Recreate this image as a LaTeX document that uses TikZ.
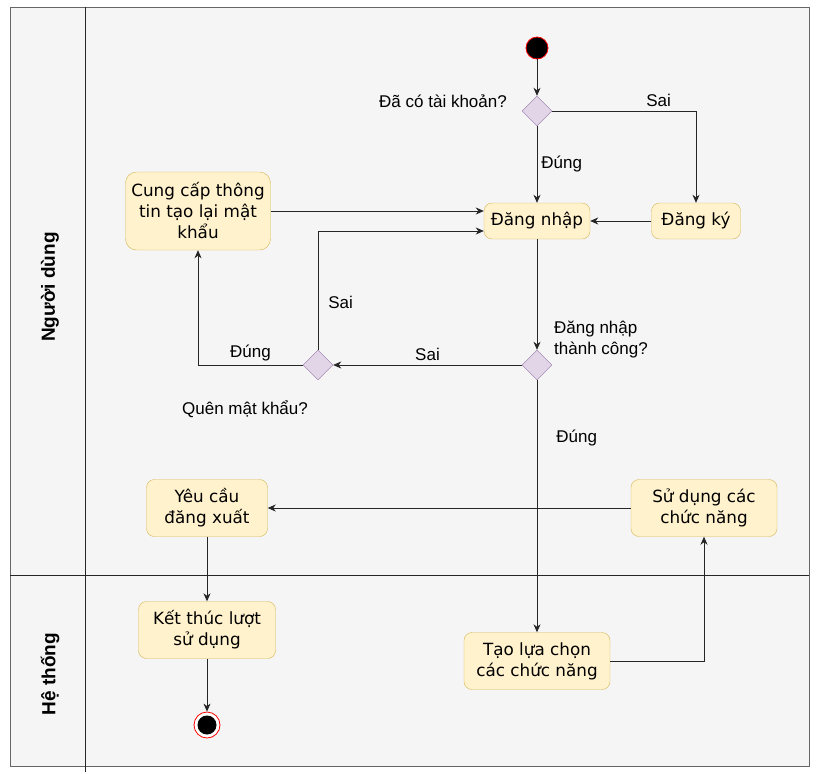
\documentclass[tikz,border=0pt]{standalone}
\usepackage{fontspec}
\setmainfont{Liberation Sans}
\newfontfamily\boxfont{DejaVu Sans}
\usepackage{tikz}
\usetikzlibrary{arrows.meta}
\usetikzlibrary{shapes.geometric}
\definecolor{laneBg}{HTML}{F5F5F5}
\definecolor{laneLine}{HTML}{666666}
\definecolor{actFill}{HTML}{FFF2CC}
\definecolor{actLine}{HTML}{D6B656}
\definecolor{decFill}{HTML}{E1D5E7}
\definecolor{decLine}{HTML}{9673A6}

\begin{document}
\begin{tikzpicture}[x=1pt,y=-1pt,>={Stealth[length=8pt,width=7pt,inset=2.5pt]},
        act/.style={draw=actLine, fill=actFill, rounded corners=8pt, align=center, inner sep=2pt,
            font=\boxfont\fontsize{16.8}{21}\selectfont},
        actc/.style={act, minimum height=57},
        dec/.style={diamond, draw=decLine, fill=decFill, minimum width=30, minimum height=30, inner sep=0},
        lbl/.style={font=\fontsize{17}{21}\selectfont, inner sep=1pt},
        lane/.style={rotate=90, font=\bfseries\fontsize{19}{22}\selectfont},
        flow/.style={->, draw=black!85, line width=0.8pt}]
        \def\lx{85}
        \def\ly{575}

        \useasboundingbox (0,0) rectangle (817,774);
        \filldraw[fill=laneBg, draw=laneLine, line width=0.8pt] (10,7) rectangle (809,766);
        \draw[black!85, line width=0.8pt] (\lx,7) -- (\lx,772);
        \draw[black!85, line width=0.8pt] (10,\ly) -- (809,\ly);
        \node[lane] (laneUser) at (50,287) {Người dùng};
        \node[lane] (laneSys) at (50,674) {Hệ thống};

        \node[circle, fill=black, draw=red, line width=0.8pt, minimum size=22, inner sep=0] (start) at (537,48) {};
        \node[dec] (hasAcc) at (537,111) {};
        \node[lbl, anchor=east] (hasAccTxt) at (508,101) {Đã có tài khoản?};
        \node[act, minimum width=106, minimum height=36] (login) at (537,221) {Đăng nhập};
        \node[act, minimum width=89, minimum height=36] (reg) at (696,221) {Đăng ký};
        \node[act, minimum width=145, minimum height=78, rounded corners=11pt] (reset) at (198,211) {Cung cấp thông\\tin tạo lại mật\\khẩu};
        \node[dec] (loginOk) at (537,365) {};
        \node[lbl, anchor=west, align=left] (loginOkTxt) at (553,339) {Đăng nhập\\thành công?};
        \node[dec] (forgot) at (318,365) {};
        \node[lbl] (forgotTxt) at (245,409) {Quên mật khẩu?};
        \node[actc, minimum width=146] (menu) at (537,661) {Tạo lựa chọn\\các chức năng};
        \node[actc, minimum width=146] (use) at (704,508) {Sử dụng các\\chức năng};
        \node[actc, minimum width=121] (logout) at (207,508) {Yêu cầu\\đăng xuất};
        \node[actc, minimum width=137] (finish) at (207,630) {Kết thúc lượt\\sử dụng};
        \node[circle, draw=red, fill=white, line width=0.8pt, minimum size=26, inner sep=0] (stop) at (207,725) {};
        \fill[black] (stop.center) circle (9.5pt);

        \draw[flow] (start) -- (hasAcc);
        \draw[flow] (hasAcc) -- node[lbl, right=3pt] {Đúng} (login);
        \draw[flow] (hasAcc.east) -| node[lbl, pos=0.37, above=3pt] {Sai} (reg.north);
        \draw[flow] (reg) -- (login);
        \draw[flow] (reset.east) -- (reset.east -| login.west);
        \draw[flow] (forgot.north) |- node[lbl, pos=0.2, right=9pt] {Sai} ([yshift=-10pt]login.west);
        \draw[flow] (login) -- (loginOk);
        \draw[flow] (loginOk) -- node[lbl, above=3pt] {Sai} (forgot);
        \draw[flow] (forgot.west) -| node[lbl, pos=0.25, above=3pt] {Đúng} (reset.south);
        \draw[flow] (loginOk) -- node[lbl, pos=0.23, right=18pt] {Đúng} (menu);
        \draw[flow] (menu.east) -| (use.south);
        \draw[flow] (use) -- (logout);
        \draw[flow] (logout) -- (finish);
        \draw[flow] (finish) -- (stop);
    \end{tikzpicture}
\end{document}
